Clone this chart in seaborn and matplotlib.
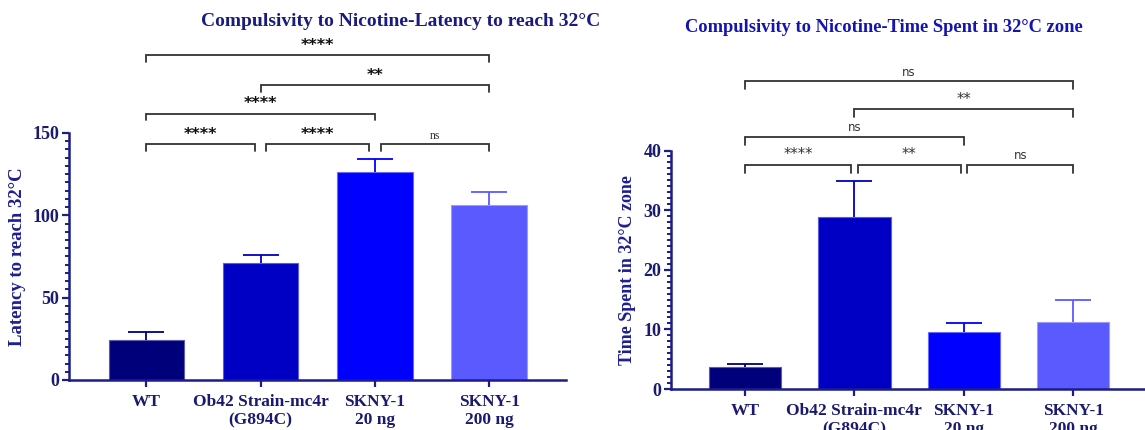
import numpy as np
import pandas as pd
import matplotlib
matplotlib.use("Agg")
import matplotlib.pyplot as plt
import seaborn as sns
from matplotlib.ticker import MultipleLocator

sns.set_theme(style="white")
plt.rcParams["font.family"] = ["Liberation Serif", "DejaVu Serif"]

# ---- data -------------------------------------------------------------
groups = ["WT", "Ob42 Strain-mc4r\n(G894C)", "SKNY-1\n20 ng", "SKNY-1\n200 ng"]
latency_mean = [24.3, 71.0, 126.5, 106.3]
latency_sem = [4.8, 5.1, 7.7, 8.0]
time_mean = [3.7, 28.8, 9.6, 11.2]
time_sem = [0.5, 6.1, 1.5, 3.7]

# pairwise comparisons: (group a, group b, label)
latency_stats = [(0, 1, "****"), (1, 2, "****"), (2, 3, "ns"),
                 (0, 2, "****"), (1, 3, "**"), (0, 3, "****")]
time_stats = [(0, 1, "****"), (1, 2, "**"), (2, 3, "ns"),
              (0, 2, "ns"), (1, 3, "**"), (0, 3, "ns")]

bar_colors = ["#00007a", "#0000c4", "#0000ff", "#5a5aff"]
edge_colors = ["#5c5cb0", "#5c5ce0", "#6a6aff", "#9a9aff"]
axis_color = "#1c1c8a"
label_color = "#1a1a70"

fig = plt.figure(figsize=(11.45, 4.30), dpi=100)
ax1 = fig.add_axes([0.0604, 0.1163, 0.4339, 0.5744])
ax2 = fig.add_axes([0.5860, 0.0953, 0.4157, 0.5547])


def draw_panel(ax, means, sems, ymax, major, minor, ylabel, ylabel_size):
    df = pd.DataFrame({"group": groups, "value": means})
    sns.barplot(data=df, x="group", y="value", hue="group", palette=bar_colors,
                legend=False, width=0.66, errorbar=None, ax=ax,
                linewidth=0.8, saturation=1)
    for patch, ec in zip(ax.patches, edge_colors):
        patch.set_edgecolor(ec)
    # upper-only error bars (mean + SEM)
    for i, (m, s) in enumerate(zip(means, sems)):
        _, caps, _ = ax.errorbar(i, m, yerr=[[0], [s]], color=bar_colors[i],
                                 lw=1.3, capsize=13.3, capthick=1.3, zorder=3)
        for cap in caps:
            if np.allclose(cap.get_ydata(), m):
                cap.set_visible(False)
    ax.set_xlim(-0.675, 3.672)
    ax.set_ylim(0, ymax)
    ax.yaxis.set_major_locator(MultipleLocator(major))
    ax.yaxis.set_minor_locator(MultipleLocator(minor))
    for side in ("top", "right"):
        ax.spines[side].set_visible(False)
    for side in ("left", "bottom"):
        ax.spines[side].set_color(axis_color)
        ax.spines[side].set_linewidth(1.8)
    ax.tick_params(axis="both", which="major", direction="out", length=5,
                   width=1.6, color=axis_color, left=True, bottom=True,
                   labelsize=13, labelcolor=label_color, pad=2)
    ax.tick_params(axis="x", which="major", labelsize=12.5, pad=5)
    ax.tick_params(axis="y", which="minor", direction="out", length=3,
                   width=1.4, color=axis_color, left=True)
    for lab in ax.get_xticklabels() + ax.get_yticklabels():
        lab.set_fontweight("bold")
    ax.set_xlabel("")
    ax.set_ylabel(ylabel, fontsize=ylabel_size, fontweight="bold",
                  color="#1e1e90", labelpad=5)


def draw_brackets(ax, stats, levels, drop, gap, font):
    for (a, b, txt), y in zip(stats, levels):
        x0 = a + (gap if b - a == 1 and a != 0 else 0)
        x1 = b - (gap if b - a == 1 and b != 3 else 0)
        ax.plot([x0, x0, x1, x1], [y - drop, y, y, y - drop], color="#333333",
                lw=1.3, clip_on=False, solid_joinstyle="miter")
        ax.text((x0 + x1) / 2, y + drop * 0.35, txt, ha="center", va="bottom",
                **font(txt))


def left_font(txt):
    if txt == "ns":
        return dict(fontsize=8.5, color="#333333", family="Liberation Serif")
    return dict(fontsize=11.5, color="#111111", family="DejaVu Sans",
                fontweight="bold")


def right_font(txt):
    if txt == "ns":
        return dict(fontsize=8.5, color="#333333", family="DejaVu Sans")
    return dict(fontsize=10.5, color="#333333", family="DejaVu Sans")


draw_panel(ax1, latency_mean, latency_sem, 150, 50, 5,
           "Latency to reach 32°C", 13.5)
draw_panel(ax2, time_mean, time_sem, 40, 10, 1,
           "Time Spent in 32°C zone", 13)

draw_brackets(ax1, latency_stats,
              [143.3, 143.3, 143.3, 161.7, 178.9, 197.1], 4.0, 0.05, left_font)
draw_brackets(ax2, time_stats,
              [37.6, 37.6, 37.6, 42.3, 46.9, 51.6], 1.3, 0.03, right_font)

fig.text(401 / 1145, 1 - 21 / 430,
         "Compulsivity to Nicotine-Latency to reach 32°C",
         ha="center", va="center", fontsize=14, fontweight="bold",
         color="#1a1a80")
fig.text(884 / 1145, 1 - 28 / 430,
         "Compulsivity to Nicotine-Time Spent in 32°C zone",
         ha="center", va="center", fontsize=13.3, fontweight="bold",
         color="#1414b4")

fig.savefig("out.png", dpi=100)
